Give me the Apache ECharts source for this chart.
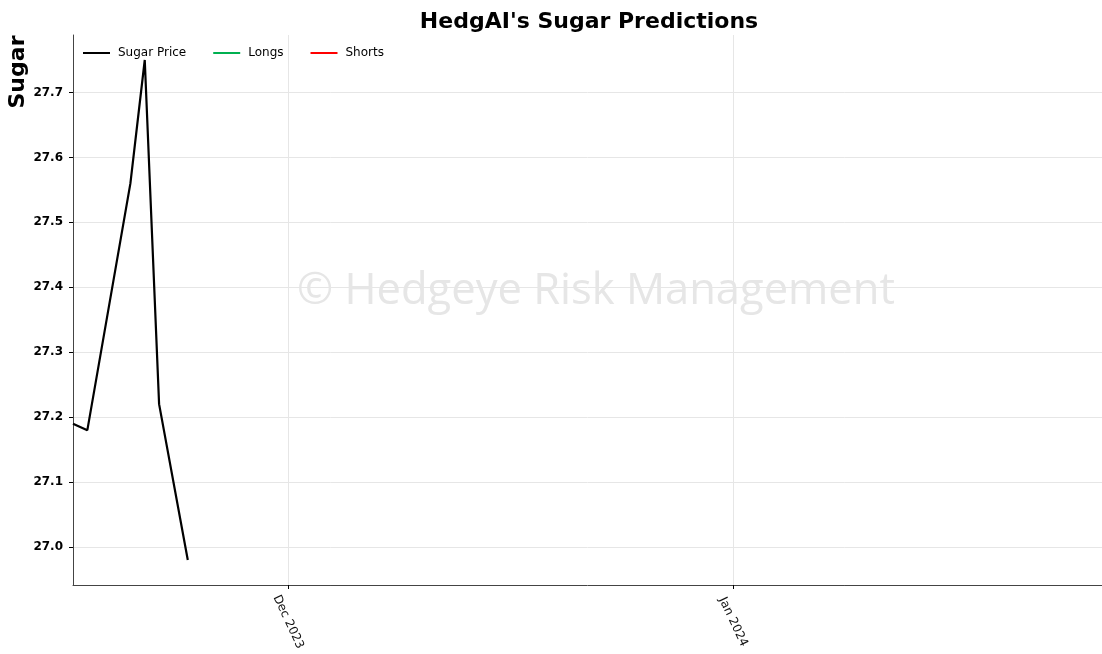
<!DOCTYPE html>
<html>
<head>
<meta charset="utf-8">
<script src="https://cdn.jsdelivr.net/npm/echarts@6/dist/echarts.min.js"></script>
<style>
  html, body { margin: 0; padding: 0; background: #fff; }
  #chart { width: 1102px; height: 654px; }
</style>
</head>
<body>
<div id="chart"></div>
<script>
// Sugar closing prices (trading days)
const dates = ['2023-11-16', '2023-11-17', '2023-11-20', '2023-11-21', '2023-11-22', '2023-11-24'];
const sugarPrice = [27.19, 27.18, 27.56, 27.75, 27.22, 26.98];
// Prediction series (no signals in this window)
const longs = [];
const shorts = [];
// Axis ticks
const xTickDates = ['2023-12-01', '2024-01-01'];
const xTickLabels = ['Dec 2023', 'Jan 2024'];
const yTicks = [27.0, 27.1, 27.2, 27.3, 27.4, 27.5, 27.6, 27.7];

const ts = d => new Date(d + 'T00:00:00Z').getTime();
const xMin = ts('2023-11-16');
const xMax = ts('2024-01-26') + 17 * 3600 * 1000;
const yMin = 26.9415, yMax = 27.7885;
const xTickVals = xTickDates.map(ts);

const chart = echarts.init(document.getElementById('chart'));
chart.setOption({
  animation: false,
  backgroundColor: '#ffffff',
  title: {
    text: "HedgAI's Sugar Predictions",
    left: 584, top: 6, textAlign: 'center',
    textStyle: { fontFamily: 'DejaVu Sans', fontWeight: 'bold', fontSize: 22, color: '#000' }
  },
  legend: {
    left: 78, top: 42,
    itemWidth: 27, itemHeight: 2, itemGap: 27,
    icon: 'rect',
    textStyle: { fontFamily: 'DejaVu Sans', fontSize: 12, color: '#000', padding: [0, 0, 0, 3] },
    data: ['Sugar Price', 'Longs', 'Shorts']
  },
  grid: { left: 73, right: 0, top: 35, bottom: 69, containLabel: false },
  xAxis: {
    type: 'value', min: xMin, max: xMax,
    axisLine: { show: true, lineStyle: { color: '#444', width: 1 } },
    axisTick: { show: true, customValues: xTickVals, length: 4, lineStyle: { color: '#000' } },
    axisLabel: {
      customValues: xTickVals,
      formatter: v => xTickLabels[xTickVals.indexOf(v)] || '',
      rotate: -65, align: 'center', verticalAlign: 'middle', margin: 37,
      fontFamily: 'DejaVu Sans', fontSize: 12, color: '#111'
    },
    splitLine: { show: true, lineStyle: { color: '#e6e6e6', width: 1 } }
  },
  yAxis: {
    type: 'value', min: yMin, max: yMax,
    axisLine: { show: true, lineStyle: { color: '#444', width: 1 } },
    axisTick: { show: true, customValues: yTicks, length: 4, lineStyle: { color: '#000' } },
    axisLabel: {
      customValues: yTicks,
      formatter: v => v.toFixed(1), margin: 10,
      fontFamily: 'DejaVu Sans', fontSize: 12, fontWeight: 'bold', color: '#000'
    },
    splitLine: { show: true, lineStyle: { color: '#e6e6e6', width: 1 } }
  },
  graphic: [{
    type: 'text', x: 18, y: 72, rotation: Math.PI / 2, silent: true,
    style: { text: 'Sugar', fontFamily: 'DejaVu Sans', fontWeight: 'bold', fontSize: 22,
      fill: '#000', align: 'center', verticalAlign: 'middle' }
  }, {
    type: 'text', left: 297, top: 270, silent: true, z: 0,
    style: { text: '\u00a9 Hedgeye Risk Management', fontFamily: 'Open Sans', fontSize: 43.5,
      fill: '#e6e6e6' }
  }],
  series: [
    { name: 'Sugar Price', type: 'line', showSymbol: false, symbol: 'none',
      data: dates.map((d, i) => [ts(d), sugarPrice[i]]),
      lineStyle: { color: '#000', width: 2.2 }, itemStyle: { color: '#000' }, z: 5 },
    { name: 'Longs', type: 'line', symbol: 'none', data: longs,
      lineStyle: { color: '#00b050', width: 2 }, itemStyle: { color: '#00b050' } },
    { name: 'Shorts', type: 'line', symbol: 'none', data: shorts,
      lineStyle: { color: '#ff0000', width: 2 }, itemStyle: { color: '#ff0000' } }
  ]
});
</script>
</body>
</html>
